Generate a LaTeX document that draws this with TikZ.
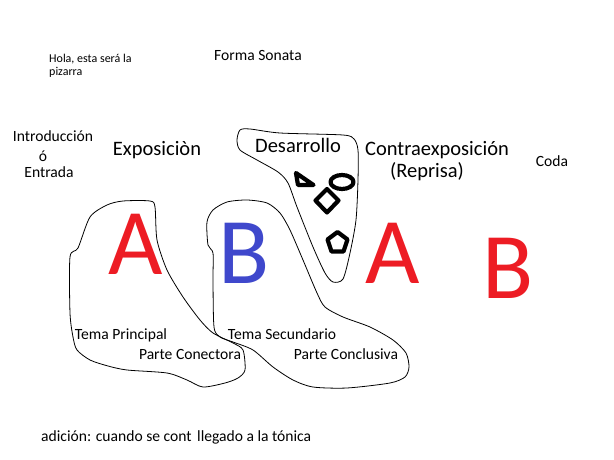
\documentclass[tikz,border=0pt]{standalone}
\usepackage{fontspec}
\setmainfont{Carlito}
\definecolor{pred}{RGB}{237,28,36}
\definecolor{pblue}{RGB}{63,72,204}
\begin{document}
\begin{tikzpicture}[x=1pt,y=-1pt,
  txt/.style={inner sep=0pt,anchor=base,font=\fontsize{15.6}{18}\selectfont},
  big/.style={inner sep=0pt,anchor=base,font=\fontsize{94}{100}\selectfont},
  head/.style={inner sep=0pt,anchor=base,font=\fontsize{20.5}{24}\selectfont},
  blob/.style={draw=black,line width=0.8pt},
  shp/.style={draw=black,line width=4.2pt,line join=round}]
\useasboundingbox[fill=white] (0,0) rectangle (614,460);

% texts
\node[inner sep=0pt,anchor=base west,font=\fontsize{12}{13}\selectfont] (hola) at (49,63) {Hola, esta será la};
\node[inner sep=0pt,anchor=base west,font=\fontsize{12}{13}\selectfont] (piz) at (49,76) {pizarra};
\node[txt] (forma) at (258,61) {Forma Sonata};
\node[txt] (intro) at (53,142) {Introducción};
\node[txt] (o) at (43,161) {ó};
\node[txt] (entr) at (49,177) {Entrada};
\node[head] (expo) at (157,156) {Exposiciòn};
\node[head] (desa) at (298,153) {Desarrollo};
\node[head] (contra) at (437,155) {Contraexposición};
\node[head] (repr) at (427,178) {(Reprisa)};
\node[txt] (coda) at (552,167) {Coda};

\node[big,text=pred] (A1) at (136,274) {A};
\node[big,text=pblue] (B1) at (244,283) {B};
\node[big,text=pred] (A2) at (393,283) {A};
\node[big,text=pred] (B2) at (508,298) {B};

\node[txt] (tp) at (121,339) {Tema Principal};
\node[txt] (pc) at (190,359) {Parte Conectora};
\node[txt] (ts) at (282,339) {Tema Secundario};
\node[txt] (pcl) at (346,359) {Parte Conclusiva};

\node[txt,anchor=base west] (add1) at (41,441) {adición: cuando se cont};
\node[txt,anchor=base west] (add2) at (197,441) {llegado a la tónica};

% blobs
\draw[blob] plot[smooth cycle,tension=0.45] coordinates {
 (70,257) (78,248) (90,217) (107,205) (123,201) (150,201) (155,207)
 (157,240) (167,270) (183,297) (200,320) (213,333) (233,343) (243,350)
 (245,370) (238,378) (225,383) (203,387) (187,380) (167,373) (127,370)
 (108,366) (90,360) (77,350) (73,337) (70,313)};
\draw[blob] plot[smooth cycle,tension=0.45] coordinates {
 (207,222) (213,210) (227,202) (247,200) (267,203) (280,213) (290,230)
 (303,260) (317,293) (325,307) (343,317) (370,327) (393,340) (406,353)
 (409,367) (405,377) (390,383) (347,388) (313,387) (293,380) (273,367)
 (253,350) (233,342) (220,337) (214,327) (213,280) (213,253) (208,245)};
\draw[blob] plot[smooth cycle,tension=0.45] coordinates {
 (240,130) (237,140) (240,150) (257,160) (278,172) (288,183) (297,207)
 (313,247) (325,273) (333,282) (343,279) (350,253) (356,220) (358,180)
 (358,150) (354,139) (343,135) (280,133) (250,129)};

% shapes
\draw[shp] (296,173) -- (298,185) -- (313.5,185) -- cycle;
\draw[shp] (342,182) ellipse [x radius=11.5,y radius=7];
\draw[shp] (327,189) -- (338.5,200.5) -- (327,212.5) -- (315.5,200.5) -- cycle;
\draw[shp] (337.5,232) -- (347.5,239.5) -- (343.5,251.5) -- (331.5,251.5) -- (327.5,239.5) -- cycle;
\end{tikzpicture}
\end{document}
